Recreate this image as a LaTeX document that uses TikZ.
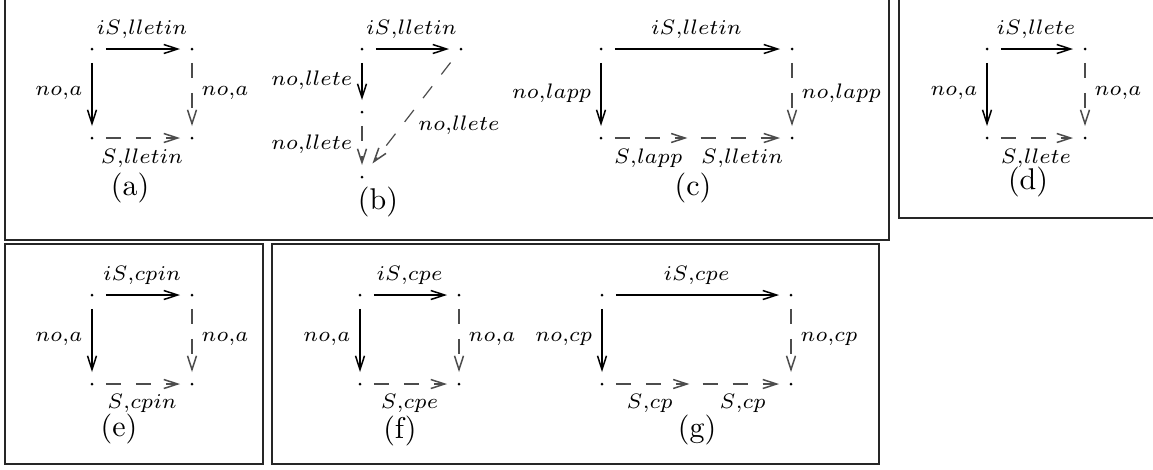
\documentclass[tikz,border=0pt]{standalone}
\usetikzlibrary{arrows.meta}
\tikzset{
  dotn/.style={circle, fill=black, inner sep=0pt, minimum size=1pt},
  midn/.style={inner sep=0pt, minimum size=0pt},
  ar/.style={-{Straight Barb[length=4.6pt,width=3pt,line width=0.5pt]}, line width=0.4pt, shorten <=3.9pt, shorten >=3.3pt},
  dsh/.style={ar, dash pattern=on 5pt off 5pt, draw=black!70},
  lab/.style={font=\fontsize{6.7}{7.5}\selectfont},
  labl/.style={lab, left, xshift=0.3pt},
  labr/.style={lab, right, xshift=-0.3pt},
  captxt/.style={font=\normalsize},
  boxframe/.style={draw=black!85, line width=0.6pt}
}
\begin{document}
\begin{tikzpicture}[x=0.33333pt, y=-0.33333pt]
\useasboundingbox (0,0) rectangle (1153,469);
\clip (0,0) rectangle (1153,469);
% frames
\draw[boxframe] (5,-20) rectangle (889,240);
\draw[boxframe] (899,-20) rectangle (1180,218);
\draw[boxframe] (5,244) rectangle (263,464);
\draw[boxframe] (272,244) rectangle (879,464);

% (a)
\node[dotn] (a1) at (92,49) {};
\node[dotn] (a2) at (192,49) {};
\node[dotn] (a3) at (92,138) {};
\node[dotn] (a4) at (192,138) {};
\draw[ar] (a1) -- node[lab,above] {$iS{,}lletin$} (a2);
\draw[ar] (a1) -- node[labl] {$no{,}a$} (a3);
\draw[dsh] (a2) -- node[labr] {$no{,}a$} (a4);
\draw[dsh] (a3) -- node[lab,below] {$S{,}lletin$} (a4);
\node[captxt] (ca) at (130,188) {(a)};

% (b)
\node[dotn] (b1) at (362,49) {};
\node[dotn] (b2) at (461,49) {};
\node[dotn] (b3) at (362,112) {};
\node[dotn] (b4) at (362,177) {};
\draw[ar] (b1) -- node[lab,above] {$iS{,}lletin$} (b2);
\draw[ar] (b1) -- node[labl] {$no{,}llete$} (b3);
\draw[dsh] (b3) -- node[labl] {$no{,}llete$} (b4);
\draw[dsh, shorten <=5pt, shorten >=5pt] (b2) -- node[lab,pos=0.6,right=2pt] {$no{,}llete$} (b4);
\node[captxt] (cb) at (378,202) {(b)};

% (c)
\node[dotn] (c1) at (601,49) {};
\node[dotn] (c2) at (792,49) {};
\node[dotn] (c3) at (601,138) {};
\node[dotn] (c4) at (792,138) {};
\node[midn] (cm) at (694,138) {};
\draw[ar] (c1) -- node[lab,above] {$iS{,}lletin$} (c2);
\draw[ar] (c1) -- node[labl] {$no{,}lapp$} (c3);
\draw[dsh] (c2) -- node[labr] {$no{,}lapp$} (c4);
\draw[dsh, shorten >=2pt] (c3) -- node[lab,below] {$S{,}lapp$} (cm);
\draw[dsh, shorten <=2pt] (cm) -- node[lab,below] {$S{,}lletin$} (c4);
\node[captxt] (cc) at (693,188) {(c)};

% (d)
\node[dotn] (d1) at (987,49) {};
\node[dotn] (d2) at (1085,49) {};
\node[dotn] (d3) at (987,138) {};
\node[dotn] (d4) at (1085,138) {};
\draw[ar] (d1) -- node[lab,above] {$iS{,}llete$} (d2);
\draw[ar] (d1) -- node[labl] {$no{,}a$} (d3);
\draw[dsh] (d2) -- node[labr] {$no{,}a$} (d4);
\draw[dsh] (d3) -- node[lab,below] {$S{,}llete$} (d4);
\node[captxt] (cd) at (1028,182) {(d)};

% (e)
\node[dotn] (e1) at (92,295) {};
\node[dotn] (e2) at (192,295) {};
\node[dotn] (e3) at (92,384) {};
\node[dotn] (e4) at (192,384) {};
\draw[ar] (e1) -- node[lab,above] {$iS{,}cpin$} (e2);
\draw[ar] (e1) -- node[labl] {$no{,}a$} (e3);
\draw[dsh] (e2) -- node[labr] {$no{,}a$} (e4);
\draw[dsh] (e3) -- node[lab,below] {$S{,}cpin$} (e4);
\node[captxt] (ce) at (119,429) {(e)};

% (f)
\node[dotn] (f1) at (360,295) {};
\node[dotn] (f2) at (459,295) {};
\node[dotn] (f3) at (360,384) {};
\node[dotn] (f4) at (459,384) {};
\draw[ar] (f1) -- node[lab,above] {$iS{,}cpe$} (f2);
\draw[ar] (f1) -- node[labl] {$no{,}a$} (f3);
\draw[dsh] (f2) -- node[labr] {$no{,}a$} (f4);
\draw[dsh] (f3) -- node[lab,below] {$S{,}cpe$} (f4);
\node[captxt] (cf) at (400,431) {(f)};

% (g)
\node[dotn] (g1) at (602,295) {};
\node[dotn] (g2) at (791,295) {};
\node[dotn] (g3) at (602,384) {};
\node[dotn] (g4) at (791,384) {};
\node[midn] (gm) at (696,384) {};
\draw[ar] (g1) -- node[lab,above] {$iS{,}cpe$} (g2);
\draw[ar] (g1) -- node[labl] {$no{,}cp$} (g3);
\draw[dsh] (g2) -- node[labr] {$no{,}cp$} (g4);
\draw[dsh, shorten >=2pt] (g3) -- node[lab,below] {$S{,}cp$} (gm);
\draw[dsh, shorten <=2pt] (gm) -- node[lab,below] {$S{,}cp$} (g4);
\node[captxt] (cg) at (697,430) {(g)};
\end{tikzpicture}
\end{document}
